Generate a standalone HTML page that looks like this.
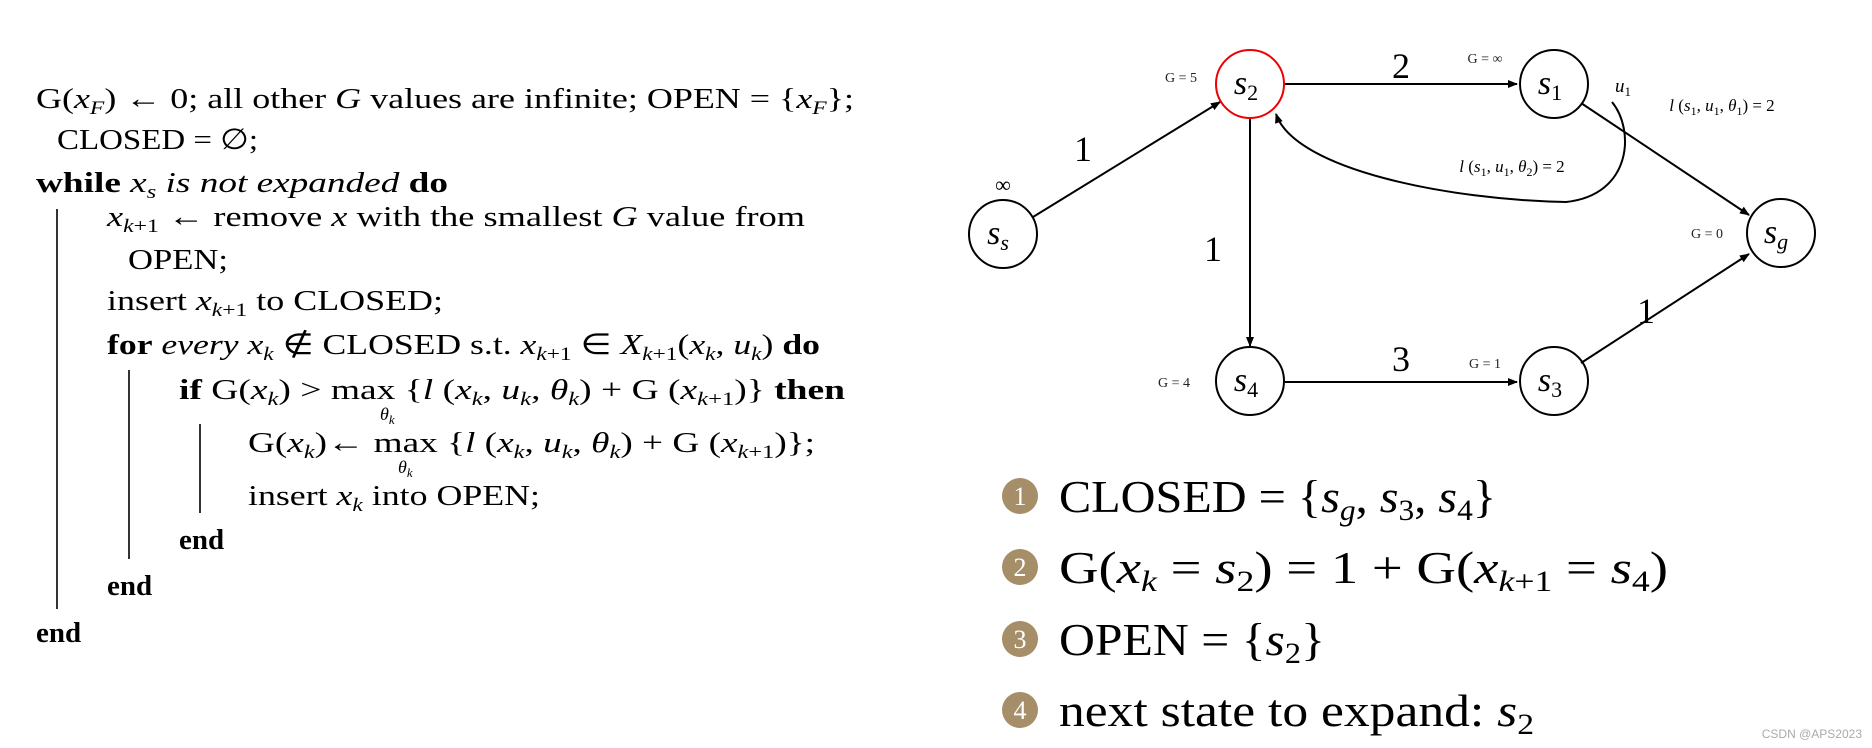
<!DOCTYPE html>
<html><head><meta charset="utf-8"><style>
html,body{margin:0;padding:0;background:#fff;}
svg{display:block;font-family:"Liberation Serif",serif;}
.i{font-style:italic}
.b{font-weight:bold}
</style></head><body>
<svg width="1872" height="748" viewBox="0 0 1872 748" xmlns="http://www.w3.org/2000/svg">
<defs>
<marker id="a" markerWidth="10" markerHeight="8" refX="9" refY="4" orient="auto" markerUnits="userSpaceOnUse">
<path d="M0,0 L10,4 L0,8 Z" fill="#000"/></marker>
</defs>
<g font-size="29" fill="#000">
<text x="36" y="108" textLength="818" lengthAdjust="spacingAndGlyphs">G(<tspan class="i">x</tspan><tspan class="i" font-size="19" dy="6">F</tspan><tspan dy="-6">) ← 0; all other </tspan><tspan class="i">G</tspan> values are infinite; OPEN = {<tspan class="i">x</tspan><tspan class="i" font-size="19" dy="6">F</tspan><tspan dy="-6">};</tspan></text>
<text x="57" y="149" textLength="201" lengthAdjust="spacingAndGlyphs">CLOSED = ∅;</text>
<text x="36" y="192" textLength="412" lengthAdjust="spacingAndGlyphs"><tspan class="b">while</tspan> <tspan class="i">x</tspan><tspan class="i" font-size="19" dy="6">s</tspan><tspan class="i" dy="-6"> is not expanded </tspan><tspan class="b">do</tspan></text>
<text x="107" y="226" textLength="698" lengthAdjust="spacingAndGlyphs"><tspan class="i">x</tspan><tspan font-size="19" dy="6"><tspan class="i">k</tspan>+1</tspan><tspan dy="-6"> ← remove </tspan><tspan class="i">x</tspan> with the smallest <tspan class="i">G</tspan> value from</text>
<text x="128" y="269" textLength="100" lengthAdjust="spacingAndGlyphs">OPEN;</text>
<text x="107" y="310" textLength="336" lengthAdjust="spacingAndGlyphs">insert <tspan class="i">x</tspan><tspan font-size="19" dy="6"><tspan class="i">k</tspan>+1</tspan><tspan dy="-6"> to CLOSED;</tspan></text>
<text x="107" y="354" textLength="713" lengthAdjust="spacingAndGlyphs"><tspan class="b">for</tspan><tspan class="i"> every x</tspan><tspan class="i" font-size="19" dy="6">k</tspan><tspan dy="-6"> ∉ CLOSED s.t. </tspan><tspan class="i">x</tspan><tspan font-size="19" dy="6"><tspan class="i">k</tspan>+1</tspan><tspan dy="-6"> ∈ </tspan><tspan class="i">X</tspan><tspan font-size="19" dy="6"><tspan class="i">k</tspan>+1</tspan><tspan dy="-6">(</tspan><tspan class="i">x</tspan><tspan class="i" font-size="19" dy="6">k</tspan><tspan dy="-6">, </tspan><tspan class="i">u</tspan><tspan class="i" font-size="19" dy="6">k</tspan><tspan dy="-6">) </tspan><tspan class="b">do</tspan></text>
<text x="179" y="399" textLength="666" lengthAdjust="spacingAndGlyphs"><tspan class="b">if</tspan> G(<tspan class="i">x</tspan><tspan class="i" font-size="19" dy="6">k</tspan><tspan dy="-6">) &gt; max {</tspan><tspan class="i">l</tspan> (<tspan class="i">x</tspan><tspan class="i" font-size="19" dy="6">k</tspan><tspan dy="-6">, </tspan><tspan class="i">u</tspan><tspan class="i" font-size="19" dy="6">k</tspan><tspan dy="-6">, </tspan><tspan class="i">θ</tspan><tspan class="i" font-size="19" dy="6">k</tspan><tspan dy="-6">) + G (</tspan><tspan class="i">x</tspan><tspan font-size="19" dy="6"><tspan class="i">k</tspan>+1</tspan><tspan dy="-6">)} </tspan><tspan class="b">then</tspan></text>
<text x="380" y="420" font-size="18" class="i">θ<tspan font-size="13" dy="4">k</tspan></text>
<text x="248" y="452" textLength="567" lengthAdjust="spacingAndGlyphs">G(<tspan class="i">x</tspan><tspan class="i" font-size="19" dy="6">k</tspan><tspan dy="-6">)← max {</tspan><tspan class="i">l</tspan> (<tspan class="i">x</tspan><tspan class="i" font-size="19" dy="6">k</tspan><tspan dy="-6">, </tspan><tspan class="i">u</tspan><tspan class="i" font-size="19" dy="6">k</tspan><tspan dy="-6">, </tspan><tspan class="i">θ</tspan><tspan class="i" font-size="19" dy="6">k</tspan><tspan dy="-6">) + G (</tspan><tspan class="i">x</tspan><tspan font-size="19" dy="6"><tspan class="i">k</tspan>+1</tspan><tspan dy="-6">)};</tspan></text>
<text x="398" y="473" font-size="18" class="i">θ<tspan font-size="13" dy="4">k</tspan></text>
<text x="248" y="505" textLength="292" lengthAdjust="spacingAndGlyphs">insert <tspan class="i">x</tspan><tspan class="i" font-size="19" dy="6">k</tspan><tspan dy="-6"> into OPEN;</tspan></text>
<text x="179" y="549" class="b">end</text>
<text x="107" y="595" class="b">end</text>
<text x="36" y="642" class="b">end</text>
</g>
<g stroke="#000" stroke-width="1.6">
<line x1="57" y1="209" x2="57" y2="609"/>
<line x1="129" y1="370" x2="129" y2="559"/>
<line x1="200" y1="424" x2="200" y2="513"/>
</g>

<g stroke="#000" stroke-width="2" fill="none">
<line x1="1033" y1="217" x2="1220" y2="102" marker-end="url(#a)"/>
<line x1="1285" y1="84" x2="1517" y2="84" marker-end="url(#a)"/>
<line x1="1250" y1="119" x2="1250" y2="346" marker-end="url(#a)"/>
<line x1="1285" y1="382" x2="1517" y2="382" marker-end="url(#a)"/>
<line x1="1581" y1="363" x2="1749" y2="254" marker-end="url(#a)"/>
<line x1="1581" y1="103" x2="1749" y2="215" marker-end="url(#a)"/>
<path d="M1612,102 C1635,130 1632,195 1566,202 C1450,200 1295,170 1276,114" marker-end="url(#a)"/>
<ellipse cx="1003" cy="234" rx="34" ry="34"/>
<ellipse cx="1250" cy="84" rx="34" ry="34" stroke="#e00"/>
<ellipse cx="1554" cy="84" rx="34" ry="34"/>
<ellipse cx="1781" cy="233" rx="34" ry="34"/>
<ellipse cx="1250" cy="381" rx="34" ry="34"/>
<ellipse cx="1554" cy="381" rx="34" ry="34"/>
</g>
<g font-size="34" class="i" text-anchor="middle" fill="#000">
<text x="998" y="244" class="i">s<tspan font-size="22" dy="6">s</tspan></text>
<text x="1246" y="94" class="i">s<tspan font-size="22" dy="6" font-style="normal">2</tspan></text>
<text x="1550" y="94" class="i">s<tspan font-size="22" dy="6" font-style="normal">1</tspan></text>
<text x="1776" y="243" class="i">s<tspan font-size="22" dy="6">g</tspan></text>
<text x="1246" y="391" class="i">s<tspan font-size="22" dy="6" font-style="normal">4</tspan></text>
<text x="1550" y="391" class="i">s<tspan font-size="22" dy="6" font-style="normal">3</tspan></text>
</g>
<g font-size="36" text-anchor="middle" fill="#000">
<text x="1401" y="78">2</text>
<text x="1083" y="161">1</text>
<text x="1213" y="261">1</text>
<text x="1401" y="371">3</text>
<text x="1646" y="323">1</text>
</g>
<g font-size="14" text-anchor="middle" fill="#222">
<text x="1181" y="82">G = 5</text>
<text x="1485" y="63">G = ∞</text>
<text x="1707" y="238">G = 0</text>
<text x="1174" y="387">G = 4</text>
<text x="1485" y="368">G = 1</text>
</g>
<text x="1003" y="192" font-size="22" text-anchor="middle">∞</text>
<text x="1623" y="92" font-size="19" text-anchor="middle" class="i">u<tspan font-size="13" dy="4" font-style="normal">1</tspan></text>
<text x="1722" y="111" font-size="17" text-anchor="middle"><tspan class="i">l</tspan> (<tspan class="i">s</tspan><tspan font-size="12" dy="4">1</tspan><tspan dy="-4">, </tspan><tspan class="i">u</tspan><tspan font-size="12" dy="4">1</tspan><tspan dy="-4">, </tspan><tspan class="i">θ</tspan><tspan font-size="12" dy="4">1</tspan><tspan dy="-4">) = 2</tspan></text>
<text x="1512" y="172" font-size="17" text-anchor="middle"><tspan class="i">l</tspan> (<tspan class="i">s</tspan><tspan font-size="12" dy="4">1</tspan><tspan dy="-4">, </tspan><tspan class="i">u</tspan><tspan font-size="12" dy="4">1</tspan><tspan dy="-4">, </tspan><tspan class="i">θ</tspan><tspan font-size="12" dy="4">2</tspan><tspan dy="-4">) = 2</tspan></text>

<g fill="#a58e68">
<circle cx="1020" cy="496" r="18"/><circle cx="1020" cy="567" r="18"/>
<circle cx="1020" cy="639" r="18"/><circle cx="1020" cy="710" r="18"/>
</g>
<g font-size="26" fill="#fff" text-anchor="middle">
<text x="1020" y="505">1</text><text x="1020" y="576">2</text>
<text x="1020" y="648">3</text><text x="1020" y="719">4</text>
</g>
<g font-size="46" fill="#000">
<text x="1059" y="512" textLength="437" lengthAdjust="spacingAndGlyphs">CLOSED = {<tspan class="i">s</tspan><tspan class="i" font-size="30" dy="8">g</tspan><tspan dy="-8">, </tspan><tspan class="i">s</tspan><tspan font-size="30" dy="8">3</tspan><tspan dy="-8">, </tspan><tspan class="i">s</tspan><tspan font-size="30" dy="8">4</tspan><tspan dy="-8">}</tspan></text>
<text x="1059" y="583" textLength="609" lengthAdjust="spacingAndGlyphs">G(<tspan class="i">x</tspan><tspan class="i" font-size="30" dy="8">k</tspan><tspan dy="-8"> = </tspan><tspan class="i">s</tspan><tspan font-size="30" dy="8">2</tspan><tspan dy="-8">) = 1 + G(</tspan><tspan class="i">x</tspan><tspan font-size="30" dy="8"><tspan class="i">k</tspan>+1</tspan><tspan dy="-8"> = </tspan><tspan class="i">s</tspan><tspan font-size="30" dy="8">4</tspan><tspan dy="-8">)</tspan></text>
<text x="1059" y="655" textLength="266" lengthAdjust="spacingAndGlyphs">OPEN = {<tspan class="i">s</tspan><tspan font-size="30" dy="8">2</tspan><tspan dy="-8">}</tspan></text>
<text x="1059" y="726" textLength="475" lengthAdjust="spacingAndGlyphs">next state to expand: <tspan class="i">s</tspan><tspan font-size="30" dy="8">2</tspan></text>
</g>
<text x="1862" y="738" font-size="12" fill="#aaa" text-anchor="end" font-family="Liberation Sans, sans-serif">CSDN @APS2023</text>
</svg>
</body></html>
